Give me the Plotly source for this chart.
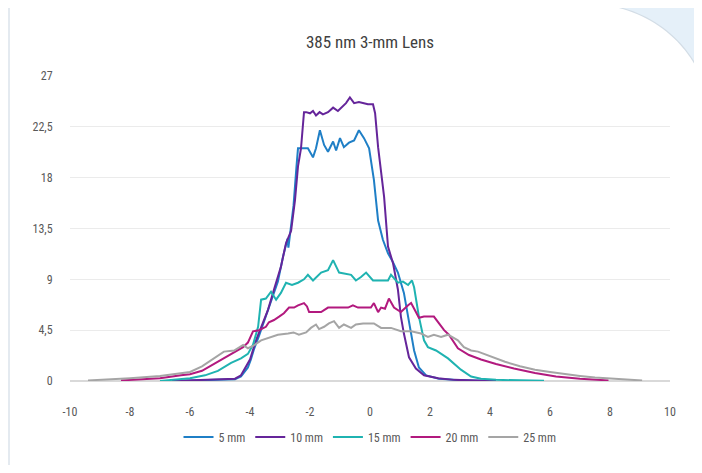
import numpy as np
import plotly.graph_objects as go

# --- data (x in mm offset, y = intensity) ---
x_5mm = [-6.6, -5.5, -4.8, -4.5, -4.3, -4.2, -4.07, -3.97, -3.87, -3.7, -3.5, -3.4, -3.2, -3.07,
         -2.9, -2.8, -2.75, -2.72, -2.66, -2.55, -2.45, -2.4, -2.3, -2.07, -1.9, -1.8, -1.67,
         -1.53, -1.4, -1.23, -1.13, -1.0, -0.87, -0.7, -0.53, -0.37, -0.2, -0.03, 0.13, 0.27,
         0.43, 0.6, 0.75, 0.93, 1.13, 1.3, 1.47, 1.63, 1.87, 2.3, 2.8, 3.5, 4.17]
y_5mm = [0.0, 0.05, 0.1, 0.15, 0.4, 0.8, 1.2, 1.9, 2.8, 4.0, 5.5, 6.2, 7.8, 8.8,
         11.0, 12.2, 12.6, 11.8, 13.0, 15.5, 19.0, 20.6, 20.6, 20.6, 19.8, 20.6, 22.2,
         20.9, 20.3, 21.2, 20.4, 21.5, 20.7, 21.1, 21.3, 22.2, 21.5, 20.6, 17.8, 14.2,
         12.5, 11.3, 10.6, 9.6, 7.8, 5.1, 2.7, 1.2, 0.5, 0.2, 0.1, 0.05, 0.0]

x_10mm = [-6.6, -5.5, -4.8, -4.5, -4.3, -4.2, -4.0, -3.8, -3.63, -3.4, -3.2, -2.97, -2.8, -2.63,
          -2.5, -2.4, -2.3, -2.25, -2.2, -2.13, -2.0, -1.9, -1.8, -1.68, -1.57, -1.4, -1.23,
          -1.07, -0.9, -0.8, -0.67, -0.53, -0.37, -0.2, -0.07, 0.1, 0.17, 0.27, 0.37, 0.47,
          0.6, 0.77, 0.93, 1.03, 1.13, 1.3, 1.53, 1.8, 2.27, 2.8, 3.5, 4.2]
y_10mm = [0.0, 0.1, 0.15, 0.2, 0.5, 1.0, 1.9, 3.6, 4.8, 6.3, 8.1, 10.1, 12.2, 13.3,
          16.0, 19.0, 20.6, 22.5, 23.8, 23.8, 23.7, 23.9, 23.5, 23.8, 23.6, 23.8, 24.2,
          23.9, 24.4, 24.6, 25.1, 24.6, 24.7, 24.6, 24.5, 24.5, 23.7, 20.7, 18.4, 16.3,
          11.9, 10.4, 8.1, 5.7, 4.2, 2.1, 1.1, 0.5, 0.25, 0.1, 0.05, 0.0]

x_15mm = [-7.0, -6.5, -6.0, -5.5, -5.07, -4.63, -4.3, -4.07, -3.9, -3.73, -3.63, -3.47, -3.3,
          -3.13, -2.97, -2.8, -2.6, -2.4, -2.2, -2.07, -1.9, -1.63, -1.4, -1.23, -1.03, -0.63,
          -0.47, -0.3, -0.13, 0.1, 0.4, 0.6, 0.7, 0.93, 1.1, 1.27, 1.4, 1.47, 1.63, 1.8,
          1.93, 2.2, 2.6, 3.03, 3.37, 3.7, 4.2, 5.0, 5.8]
y_15mm = [0.0, 0.1, 0.25, 0.5, 0.9, 1.6, 2.0, 2.4, 3.2, 4.8, 7.2, 7.3, 7.9,
          7.2, 7.8, 8.7, 8.5, 8.7, 9.0, 9.4, 8.9, 9.6, 9.8, 10.7, 9.6, 9.4,
          8.9, 9.2, 9.6, 8.9, 8.9, 8.9, 9.4, 8.7, 8.8, 8.5, 8.9, 8.3, 5.7, 3.6,
          3.0, 2.7, 2.0, 1.0, 0.4, 0.2, 0.1, 0.05, 0.02]

x_20mm = [-8.3, -7.5, -7.0, -6.3, -6.0, -5.6, -5.2, -4.87, -4.53, -4.23, -4.07, -3.9, -3.7,
          -3.47, -3.37, -3.2, -3.03, -2.87, -2.7, -2.53, -2.4, -2.2, -2.1, -2.03, -1.63, -1.4,
          -1.0, -0.73, -0.57, -0.4, 0.03, 0.13, 0.27, 0.37, 0.5, 0.63, 0.8, 1.03, 1.27, 1.37,
          1.53, 1.63, 1.8, 2.13, 2.47, 2.63, 2.93, 3.3, 3.7, 4.2, 4.8, 5.5, 6.2, 7.0, 7.95]
y_20mm = [0.05, 0.15, 0.25, 0.5, 0.6, 0.9, 1.5, 2.0, 2.5, 3.0, 3.4, 4.4, 4.5,
          4.8, 5.2, 5.4, 5.7, 6.0, 6.5, 6.5, 6.7, 6.9, 6.6, 6.1, 6.1, 6.5,
          6.5, 6.5, 6.7, 6.5, 6.5, 6.9, 6.1, 6.5, 6.4, 7.3, 6.5, 6.1, 6.7, 6.9,
          6.1, 5.6, 5.7, 5.7, 4.5, 4.1, 2.9, 2.3, 1.9, 1.5, 1.1, 0.7, 0.4, 0.2, 0.05]

x_25mm = [-9.4, -8.5, -8.0, -7.0, -6.3, -6.0, -5.6, -5.2, -4.87, -4.53, -4.23, -4.07, -3.9,
          -3.63, -3.4, -3.07, -2.73, -2.55, -2.37, -2.13, -1.97, -1.8, -1.7, -1.53, -1.37,
          -1.2, -1.03, -0.87, -0.63, -0.47, -0.23, 0.13, 0.37, 0.7, 1.03, 1.37, 1.7, 1.93,
          2.13, 2.37, 2.6, 2.93, 3.13, 3.37, 3.6, 4.0, 4.5, 5.0, 5.5, 6.0, 6.5, 7.0, 7.5,
          8.0, 8.5, 9.07]
y_25mm = [0.05, 0.15, 0.25, 0.45, 0.7, 0.8, 1.3, 2.0, 2.6, 2.7, 3.2, 2.9, 3.1,
          3.6, 3.8, 4.1, 4.2, 4.3, 4.1, 4.3, 4.7, 5.0, 4.6, 4.8, 5.1,
          5.3, 4.7, 5.0, 4.7, 5.0, 5.1, 5.1, 4.7, 4.7, 4.4, 4.4, 4.2, 3.9,
          4.1, 3.9, 4.1, 3.6, 3.0, 2.7, 2.6, 2.2, 1.7, 1.3, 1.0, 0.8, 0.6, 0.45, 0.3,
          0.2, 0.1, 0.05]

series = [("5 mm", x_5mm, y_5mm, "#1f7fc6"),
          ("10 mm", x_10mm, y_10mm, "#65259a"),
          ("15 mm", x_15mm, y_15mm, "#1fb3b1"),
          ("20 mm", x_20mm, y_20mm, "#b2197e"),
          ("25 mm", x_25mm, y_25mm, "#a5a5a5")]

y_tickvals = [0, 4.5, 9, 13.5, 18, 22.5, 27]
y_ticktext = ["0", "4,5", "9", "13,5", "18", "22,5", "27"]
x_tickvals = [-10, -8, -6, -4, -2, 0, 2, 4, 6, 8, 10]
x_ticktext = ["-10", "-8", "-6", "-4", "-2", "0", "2", "4", "6", "8", "10"]

# page body has an 8px margin, so the figure is drawn 8px in from the window edge
OFF = 8
W, H = 702 - 2 * OFF, 473 - 2 * OFF
ML, MR, MT, MB = 62, 24, 68, 84
FONT = "Roboto Condensed, Roboto, sans-serif"


# window pixel -> paper coords, for the card decoration
def px(xp):
    return (xp - OFF - ML) / (W - ML - MR)


def py(yp):
    return (H - MB - (yp - OFF)) / (H - MT - MB)


# rounded top-right corner of the card
cx, cy, r = 590, 126, 122
phi = np.linspace(0, np.arcsin((702 - cx) / r), 30)
arc = [(cx + r * np.sin(p), cy - r * np.cos(p)) for p in phi]

blue_path = "M %f,%f L %f,%f L %f,%f " % (px(467), py(0), px(704), py(0), px(704), py(arc[-1][1]))
for ax_, ay_ in reversed(arc):
    blue_path += "L %f,%f " % (px(ax_), py(ay_))
blue_path += "L %f,%f Z" % (px(467), py(4))

border_path = "M %f,%f L %f,%f L %f,%f " % (px(704), py(470), px(9), py(470), px(9), py(4))
for ax_, ay_ in arc:
    border_path += "L %f,%f " % (px(ax_), py(ay_))

fig = go.Figure()
for name, xs, ys, col in series:
    fig.add_trace(go.Scatter(x=xs, y=ys, mode="lines", name=name,
                             line=dict(color=col, width=2)))

fig.update_layout(
    width=W, height=H,
    margin=dict(l=ML, r=MR, t=MT, b=MB),
    paper_bgcolor="white", plot_bgcolor="white",
    font=dict(family=FONT, color="#595959", size=12),
    title=dict(text="385 nm 3-mm Lens", x=0.5, xref="paper", xanchor="center",
               y=1 - (42 - OFF) / H, yref="container", yanchor="middle",
               font=dict(family=FONT, size=17, color="#404040")),
    showlegend=True,
    legend=dict(orientation="h", x=0.5, xanchor="center", y=py(437), yanchor="middle",
                font=dict(family=FONT, size=12, color="#595959"),
                itemwidth=30, tracegroupgap=0, bgcolor="rgba(0,0,0,0)"),
    shapes=[
        dict(type="path", xref="paper", yref="paper", path=blue_path,
             fillcolor="#e5f0f9", line=dict(width=0), layer="below"),
        dict(type="path", xref="paper", yref="paper", path=border_path,
             line=dict(color="#d3dde6", width=1.2), layer="below"),
    ],
)

fig.update_xaxes(range=[-10, 10], tickvals=x_tickvals, ticktext=x_ticktext,
                 showgrid=False, zeroline=False,
                 showline=False, ticks="outside", ticklen=20, tickcolor="rgba(0,0,0,0)",
                 tickfont=dict(size=12, color="#595959"))
fig.update_yaxes(range=[0, 27], tickvals=y_tickvals, ticktext=y_ticktext,
                 showgrid=True, gridcolor="#ebebeb", gridwidth=1,
                 zeroline=True, zerolinecolor="#d9d9d9", zerolinewidth=1.5,
                 showline=False, ticks="outside", ticklen=14, tickcolor="rgba(0,0,0,0)",
                 tickfont=dict(size=12, color="#595959"))

fig.write_html("out.html")
